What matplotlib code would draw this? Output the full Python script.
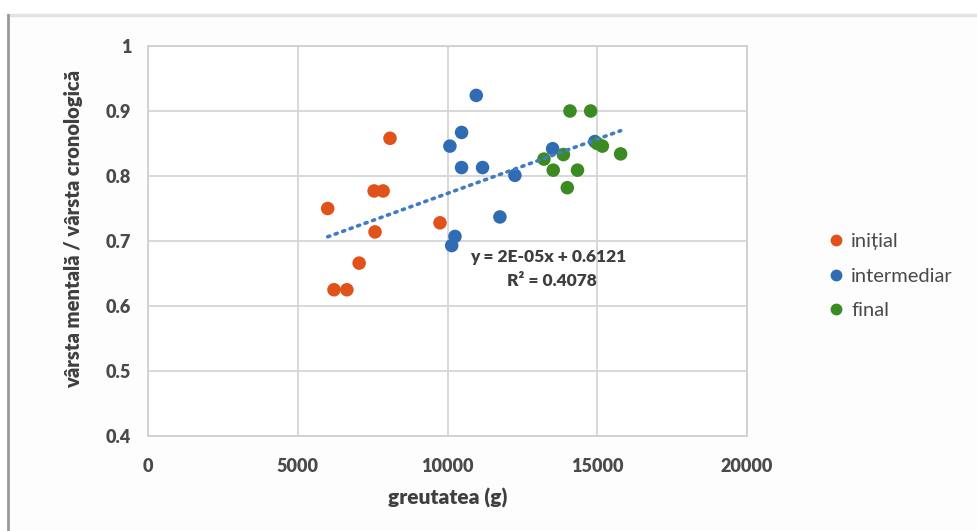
import numpy as np
import matplotlib
matplotlib.use("Agg")
import matplotlib.pyplot as plt
from matplotlib.lines import Line2D
from matplotlib.patches import Rectangle

plt.rcParams['font.family'] = ['Lato', 'DejaVu Sans']

# Data
initial_x = [6000, 6210, 6640, 7050, 7580, 7550, 7850, 8080, 9750]
initial_y = [0.750, 0.625, 0.625, 0.666, 0.714, 0.777, 0.777, 0.858, 0.728]

inter_x = [10960, 10470, 10080, 10470, 11170, 12250, 11750, 13510, 14920, 10250, 10140]
inter_y = [0.924, 0.867, 0.846, 0.813, 0.813, 0.801, 0.737, 0.842, 0.853, 0.707, 0.693]

final_x = [14090, 14780, 15000, 15170, 15780, 13870, 13220, 13530, 14340, 14000]
final_y = [0.900, 0.900, 0.850, 0.846, 0.834, 0.833, 0.826, 0.809, 0.809, 0.782]

series_names = ['inițial', 'intermediar', 'final']
series_colors = ['#E0521A', '#2F6CB3', '#3C8A22']

eq_text = 'y = 2E-05x + 0.6121'
r2_text = 'R² = 0.4078'

x_ticks = [0, 5000, 10000, 15000, 20000]
y_ticks = [0.4, 0.5, 0.6, 0.7, 0.8, 0.9, 1]
y_ticklabels = ['0.4', '0.5', '0.6', '0.7', '0.8', '0.9', '1']

W, H = 978, 531
fig = plt.figure(figsize=(W / 100, H / 100), dpi=100)
fig.patch.set_facecolor('white')

# outer frame of the screenshot
fig.add_artist(Rectangle((8 / W, -0.1), 1.2, (H - 15) / H + 0.1, transform=fig.transFigure,
                         facecolor='#fdfdfd', edgecolor='none', zorder=-5))
fig.add_artist(Line2D([8 / W, 1.0], [1 - 15 / H, 1 - 15 / H], transform=fig.transFigure,
                      color='#e3e3e3', lw=2.5))
fig.add_artist(Line2D([8 / W, 8 / W], [0, 1 - 15 / H], transform=fig.transFigure,
                      color='#9a9a9a', lw=2))

ax = fig.add_axes([148 / W, 1 - 436 / H, (747 - 148) / W, (436 - 46) / H])
ax.set_facecolor('white')

datasets = [(initial_x, initial_y), (inter_x, inter_y), (final_x, final_y)]
for (xs, ys), c in zip(datasets, series_colors):
    ax.scatter(xs, ys, s=95, color=c, edgecolors='none', zorder=3)

# linear trend across all points
all_x = np.array(initial_x + inter_x + final_x, dtype=float)
all_y = np.array(initial_y + inter_y + final_y, dtype=float)
m, b = np.polyfit(all_x, all_y, 1)
tx = np.array([all_x.min(), all_x.max()])
ax.plot(tx, m * tx + b, color='#3F7CC4', lw=2.6, linestyle=(0, (0.6, 1.6)),
        dash_capstyle='round', zorder=4)

txt_color = '#3f3f3f'
ax.text(13350, 0.676, eq_text, ha='center', va='center', fontsize=12.5,
        fontweight='heavy', color=txt_color, zorder=5)
ax.text(13500, 0.638, r2_text, ha='center', va='center', fontsize=12.5,
        fontweight='heavy', color=txt_color, zorder=5)

ax.set_xlim(0, 20000)
ax.set_ylim(0.4, 1.0)
ax.set_xticks(x_ticks)
ax.set_xticklabels([str(v) for v in x_ticks])
ax.set_yticks(y_ticks)
ax.set_yticklabels(y_ticklabels)
ax.grid(True, color='#d6d6d6', lw=1.3, zorder=0)
ax.set_axisbelow(True)
for sp in ax.spines.values():
    sp.set_color('#d0d0d0')
    sp.set_linewidth(1.3)
ax.tick_params(axis='y', length=0, pad=12, labelsize=13, colors='#4a4a4a')
ax.tick_params(axis='x', length=0, pad=16, labelsize=13, colors='#4a4a4a')
for lbl in ax.get_xticklabels() + ax.get_yticklabels():
    lbl.set_fontweight('heavy')

ax.set_xlabel('greutatea (g)', fontsize=15, fontweight='heavy', color=txt_color, labelpad=9)
ax.set_ylabel('vârsta mentală / vârsta cronologică', fontsize=14.5, fontweight='heavy',
              color=txt_color)
ax.yaxis.set_label_coords(-0.108, 0.53)

handles = [Line2D([], [], marker='o', linestyle='none', markersize=8.5,
                  markerfacecolor=c, markeredgecolor='none') for c in series_colors]
fig.legend(handles, series_names, loc='center left', bbox_to_anchor=(806 / W, 1 - 276 / H),
           frameon=False, fontsize=14.5, labelcolor='#4a4a4a', handletextpad=0.15,
           labelspacing=0.85, handlelength=1.2)

fig.savefig('out.png', dpi=100)
